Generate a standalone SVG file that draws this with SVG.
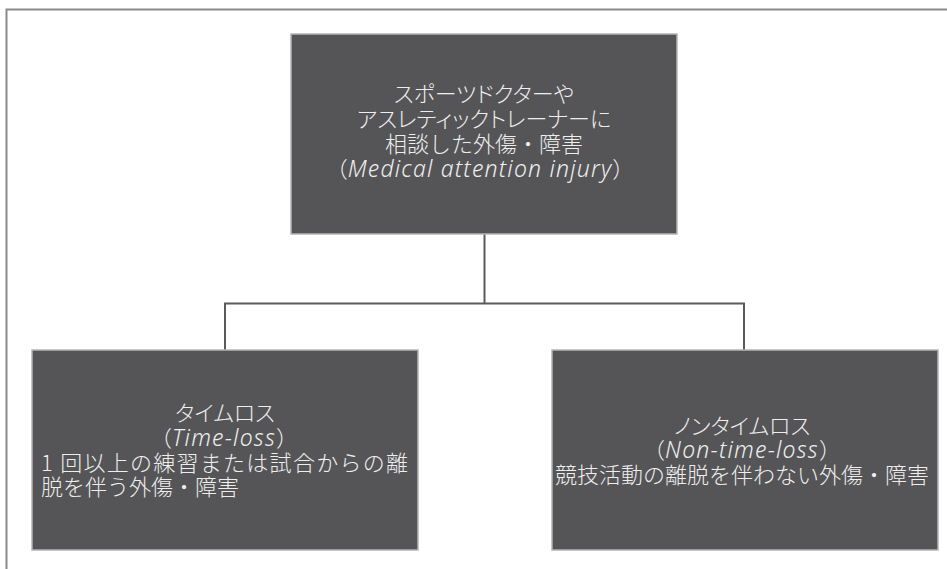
<svg xmlns="http://www.w3.org/2000/svg" width="947" height="569" viewBox="0 0 947 569">
<style>
.frame{fill:none;stroke:#8a8a8a;stroke-width:2}
.box{fill:#555557;stroke:#b4b4b4;stroke-width:1.5}
.conn{fill:none;stroke:#5a5a5a;stroke-width:2}
.t{font-family:"Noto Sans CJK JP",sans-serif;font-size:22px;font-weight:300;fill:#eeeeee;text-anchor:middle}
.k{font-feature-settings:"palt"}
.it{font-family:"Noto Sans","Noto Sans CJK JP",sans-serif;font-style:italic;font-weight:300;font-size:23px;letter-spacing:1.2px}
</style>
<rect width="947" height="569" fill="#ffffff"/>
<rect class="frame" x="6.5" y="9.5" width="960" height="580"/>
<g id="connectors">
<polyline class="conn" points="484.5,234 484.5,303.5"/>
<polyline class="conn" points="225,350 225,303.5 744,303.5 744,350"/>
</g>
<g id="node-top">
<rect class="box" x="291" y="34" width="386" height="200"/>
<text class="t k" x="484" y="102">スポーツドクターや</text>
<text class="t k" x="484" y="127">アスレティックトレーナーに</text>
<text class="t" x="484" y="152">相談した外傷・障害</text>
<text class="t" x="480" y="177">（<tspan class="it">Medical attention injury</tspan>）</text>
</g>
<g id="node-left">
<rect class="box" x="32" y="350" width="386" height="200"/>
<text class="t k" x="225" y="421">タイムロス</text>
<text class="t" x="224" y="446">（<tspan class="it">Time-loss</tspan>）</text>
<text class="t" x="41" y="471" style="text-anchor:start" textLength="367" lengthAdjust="spacing">1 回以上の練習または試合からの離</text>
<text class="t" x="41" y="495" style="text-anchor:start">脱を伴う外傷・障害</text>
</g>
<g id="node-right">
<rect class="box" x="552" y="350" width="386" height="200"/>
<text class="t k" x="742" y="434">ノンタイムロス</text>
<text class="t" x="742" y="458">（<tspan class="it">Non-time-loss</tspan>）</text>
<text class="t" x="742" y="483">競技活動の離脱を伴わない外傷・障害</text>
</g>
</svg>
